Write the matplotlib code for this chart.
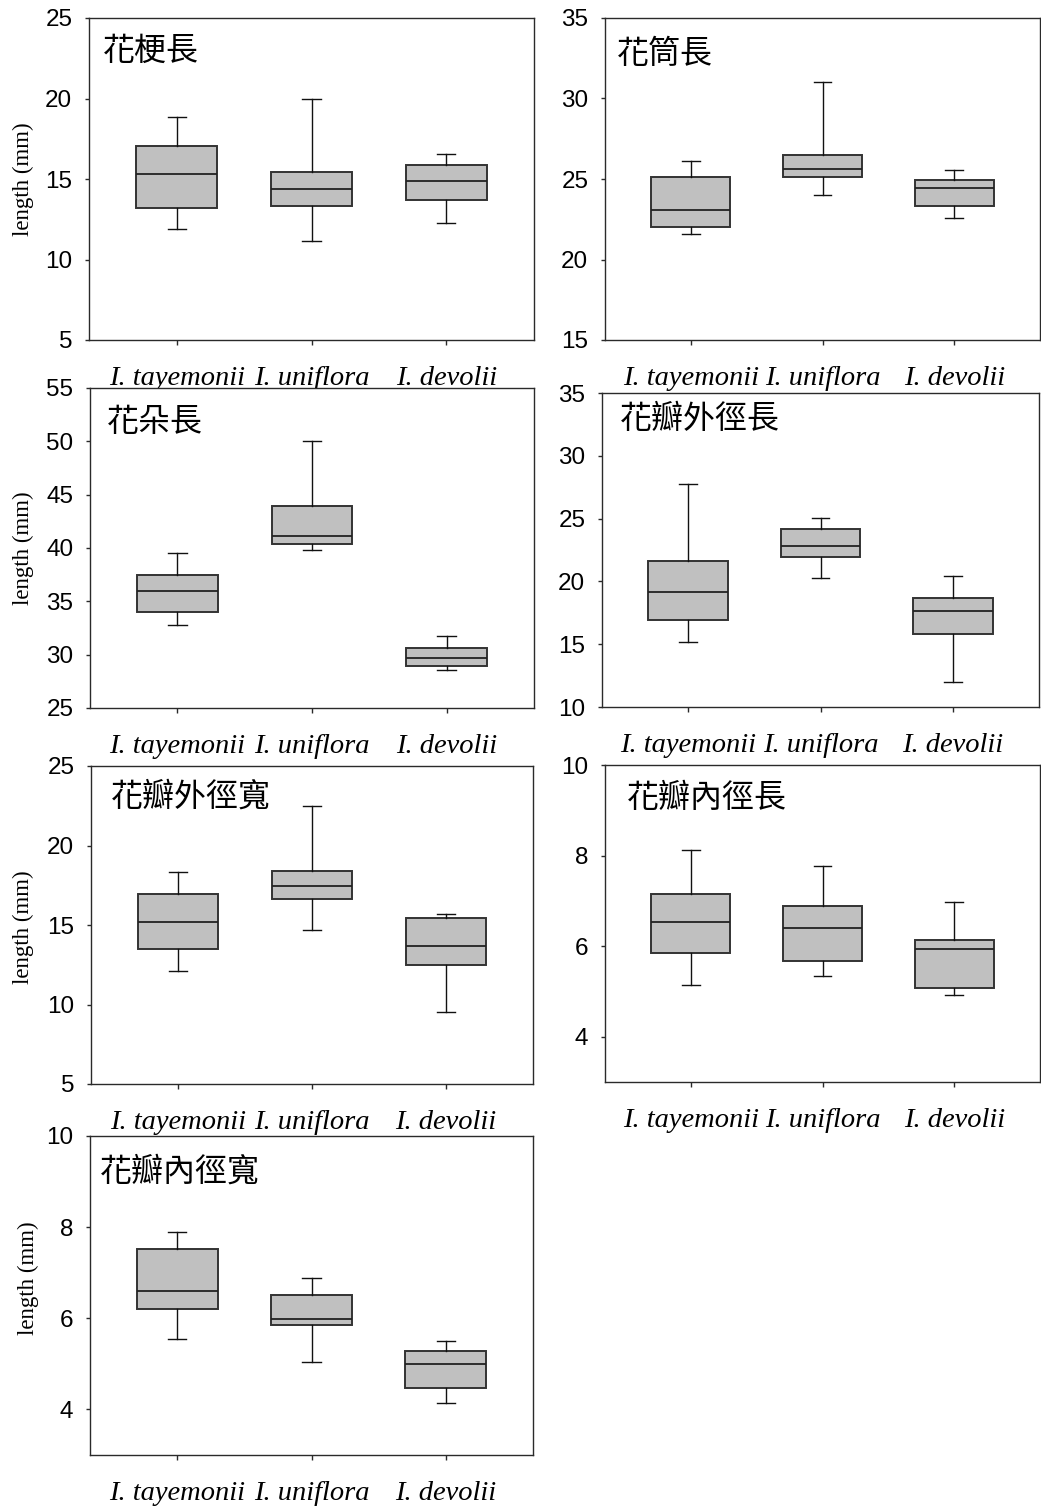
import matplotlib
matplotlib.use("Agg")
import matplotlib.pyplot as plt

W, H = 1041, 1508

species = ["I. tayemonii", "I. uniflora", "I. devolii"]
titles = ["花梗長", "花筒長", "花朵長", "花瓣外徑長", "花瓣外徑寬", "花瓣內徑長", "花瓣內徑寬"]

# Five-number summaries per species: (lower whisker, Q1, median, Q3, upper whisker), mm
pedicel_len = [(11.90, 13.22, 15.29, 17.07, 18.88),
               (11.18, 13.34, 14.36, 15.44, 19.96),
               (12.24, 13.71, 14.85, 15.85, 16.58)]
tube_len = [(21.56, 22.03, 23.05, 25.10, 26.10),
            (23.98, 25.10, 25.60, 26.47, 31.02),
            (22.55, 23.30, 24.42, 24.92, 25.54)]
flower_len = [(32.75, 34.00, 36.00, 37.46, 39.56),
              (39.84, 40.38, 41.13, 43.90, 50.03),
              (28.60, 28.94, 29.72, 30.63, 31.78)]
outer_petal_len = [(15.16, 16.92, 19.12, 21.66, 27.75),
                   (20.29, 21.95, 22.85, 24.18, 25.03),
                   (11.96, 15.80, 17.61, 18.65, 20.42)]
outer_petal_wid = [(12.13, 13.51, 15.19, 16.95, 18.35),
                   (14.71, 16.61, 17.47, 18.39, 22.51),
                   (9.52, 12.49, 13.66, 15.44, 15.67)]
inner_petal_len = [(5.14, 5.85, 6.54, 7.16, 8.13),
                   (5.34, 5.68, 6.40, 6.89, 7.76),
                   (4.93, 5.07, 5.94, 6.13, 6.98)]
inner_petal_wid = [(5.54, 6.20, 6.60, 7.52, 7.89),
                   (5.04, 5.86, 5.99, 6.51, 6.88),
                   (4.14, 4.46, 5.00, 5.28, 5.50)]

traits = [pedicel_len, tube_len, flower_len, outer_petal_len,
          outer_petal_wid, inner_petal_len, inner_petal_wid]

y_limits = [(5, 25), (15, 35), (25, 55), (10, 35), (5, 25), (3, 10), (3, 10)]
y_ticks = [[5, 10, 15, 20, 25], [15, 20, 25, 30, 35], [25, 30, 35, 40, 45, 50, 55],
           [10, 15, 20, 25, 30, 35], [5, 10, 15, 20, 25], [4, 6, 8, 10], [4, 6, 8, 10]]

# panel frames in pixels: left, top, right, bottom
frames = [(89, 18, 534, 340), (605, 18, 1040, 340),
          (90, 388, 534, 708), (602, 393, 1039, 707),
          (91, 766, 533, 1084), (605, 765, 1040, 1082),
          (90, 1136, 533, 1455)]
# title anchor (left x, centre y) in pixels
title_pos = [(103, 51), (617, 54), (107, 422), (620, 419),
             (111, 797), (627, 798), (100, 1172)]
# y-axis label centre in pixels (left column only)
ylabel_pos = {0: (23, 179), 2: (23, 548), 4: (23, 927), 6: (28, 1278)}

fig = plt.figure(figsize=(W / 100, H / 100), dpi=100)
fig.patch.set_facecolor("white")

edge = "#2a2a2a"
for i, data in enumerate(traits):
    l, t, r, b = frames[i]
    ax = fig.add_axes([l / W, 1 - b / H, (r - l) / W, (b - t) / H])
    stats = [dict(whislo=s[0], q1=s[1], med=s[2], q3=s[3], whishi=s[4], fliers=[])
             for s in data]
    ax.bxp(stats, positions=[1, 2, 3], widths=0.6, capwidths=0.135,
           patch_artist=True, showfliers=False,
           boxprops=dict(facecolor="#c0c0c0", edgecolor="#333333", linewidth=1.4),
           medianprops=dict(color="#222222", linewidth=1.3),
           whiskerprops=dict(color="#111111", linewidth=1.0),
           capprops=dict(color="#111111", linewidth=1.0))
    ax.set_xlim(0.35, 3.65)
    ax.set_ylim(*y_limits[i])
    ax.set_yticks(y_ticks[i])
    ax.set_xticks([1, 2, 3])
    ax.set_xticklabels(species, family="Liberation Serif", style="italic", fontsize=20.5)
    for lab in ax.get_yticklabels():
        lab.set_family("Liberation Sans")
        lab.set_fontsize(17.5)
    ax.tick_params(axis="x", direction="out", length=3.5, width=1.0, pad=15.5, colors=edge)
    ax.tick_params(axis="y", direction="out", length=3.0, width=1.0, pad=9.0, colors=edge)
    for lab in ax.get_xticklabels() + ax.get_yticklabels():
        lab.set_color("black")
    for sp in ax.spines.values():
        sp.set_color(edge)
        sp.set_linewidth(1.0)
    tx, ty = title_pos[i]
    fig.text(tx / W, 1 - ty / H, titles[i], family=["Noto Sans CJK TC", "DejaVu Sans"],
             fontsize=23, fontweight="light", ha="left", va="center", color="black")
    if i in ylabel_pos:
        lx, ly = ylabel_pos[i]
        fig.text(lx / W, 1 - ly / H, "length (mm)", family="Liberation Serif",
                 fontsize=16.5, rotation=90, ha="center", va="center")

fig.savefig("out.png", dpi=100, facecolor="white")
